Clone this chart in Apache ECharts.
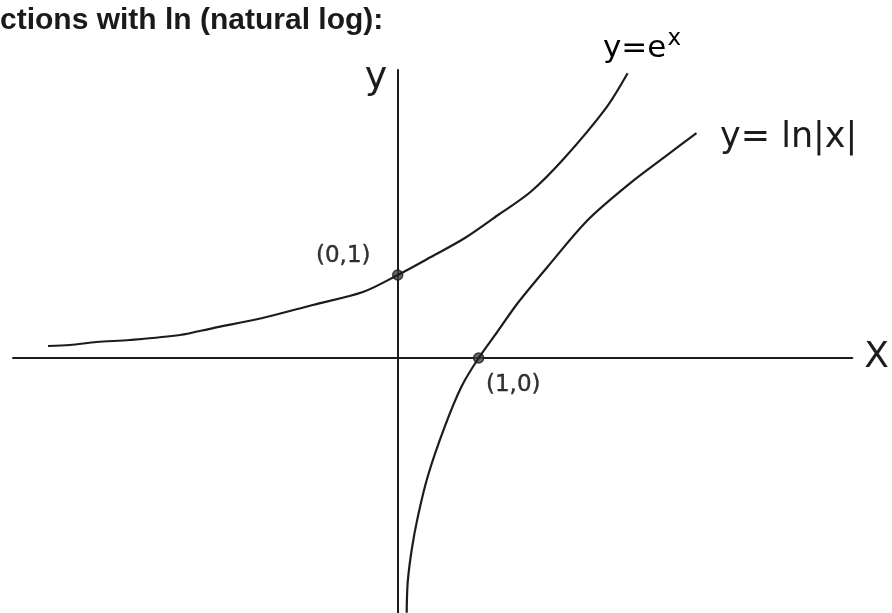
<!DOCTYPE html>
<html>
<head>
<meta charset="utf-8">
<script src="https://cdn.jsdelivr.net/npm/echarts@6/dist/echarts.min.js"></script>
<style>html,body{margin:0;padding:0;background:#fff}#c{width:892px;height:613px}</style>
</head>
<body>
<div id="c"></div>
<script>
// Values (x, y in axis units: 1 unit = distance to the marked points)
const expX = [-4.32, -4.05, -3.72, -3.31, -2.69, -2.28, -1.67, -1.05, -0.43, 0, 0.41, 0.83, 1.24, 1.64, 2.06, 2.58, 2.84];
const expY = [0.145, 0.157, 0.193, 0.217, 0.277, 0.361, 0.482, 0.639, 0.795, 1, 1.217, 1.446, 1.723, 2.00, 2.41, 3.02, 3.43];
const lnX = [0.111, 0.123, 0.173, 0.247, 0.370, 0.580, 0.790, 1, 1.235, 1.481, 1.852, 2.346, 2.877, 3.296, 3.691];
const lnY = [-3.07, -2.71, -2.31, -1.92, -1.43, -0.83, -0.34, 0, 0.32, 0.66, 1.10, 1.66, 2.11, 2.42, 2.71];
const pointX = [0, 1];
const pointY = [1, 0];
const pointLabels = ['(0,1)', '(1,0)'];
const titleText = 'ctions with ln (natural log):';

const zip = (a, b) => a.map((v, i) => [v, b[i]]);
const hand = '"DejaVu Sans", "Noto Sans", sans-serif';
const ink = '#1c1c1c';

const chart = echarts.init(document.getElementById('c'));
chart.setOption({
  animation: false,
  backgroundColor: '#fff',
  grid: { left: 13, right: 39, top: 70, bottom: 0, containLabel: false },
  xAxis: {
    type: 'value', min: -4.753, max: 5.617,
    axisLine: { onZero: true, lineStyle: { color: ink, width: 2 } },
    axisTick: { show: false }, axisLabel: { show: false }, splitLine: { show: false },
    name: 'X', nameLocation: 'end', nameGap: 12,
    nameTextStyle: { fontFamily: hand, fontSize: 36, color: ink, verticalAlign: 'middle' }
  },
  yAxis: {
    type: 'value', min: -3.072, max: 3.47,
    axisLine: { onZero: true, lineStyle: { color: ink, width: 2 } },
    axisTick: { show: false }, axisLabel: { show: false }, splitLine: { show: false }
  },
  series: [
    {
      type: 'line', data: zip(expX, expY), smooth: 0.3, showSymbol: false, clip: false,
      lineStyle: { color: ink, width: 2.2 }
    },
    {
      type: 'line', data: zip(lnX, lnY), smooth: 0.3, showSymbol: false, clip: false,
      lineStyle: { color: ink, width: 2.2 }
    },
    {
      type: 'scatter', data: zip(pointX, pointY), symbolSize: 10,
      itemStyle: { color: '#444', borderColor: ink, borderWidth: 1.5 },
      label: {
        show: true, fontFamily: hand, fontSize: 23, color: '#000',
        textBorderColor: '#000', textBorderWidth: 0.4,
        formatter: p => pointLabels[p.dataIndex],
        position: 'left'
      },
      labelLayout: p => p.dataIndex === 0
        ? { x: 316, y: 256, align: 'left', verticalAlign: 'middle' }
        : { x: 486, y: 385, align: 'left', verticalAlign: 'middle' }
    }
  ],
  graphic: [
    { type: 'text', x: 0, y: 21, style: { text: titleText, font: 'bold 30px "Liberation Sans", Arial, sans-serif', fill: '#1a1a1a', verticalAlign: 'middle' } },
    { type: 'text', x: 376, y: 78, style: { text: 'y', font: '38px ' + hand, fill: ink, align: 'center', verticalAlign: 'middle' } },
    { type: 'text', x: 603, y: 46, style: {
        text: '{a|y=e}{b|x}', verticalAlign: 'middle',
        rich: { a: { fontFamily: hand, fontSize: 31, color: ink, verticalAlign: 'bottom' },
                b: { fontFamily: hand, fontSize: 23, color: ink, verticalAlign: 'top', padding: [0, 0, 14, 1] } }
      } },
    { type: 'text', x: 720, y: 138, style: { text: 'y= ln|x|', font: '35px ' + hand, fill: ink, verticalAlign: 'middle' } }
  ]
});
</script>
</body>
</html>
